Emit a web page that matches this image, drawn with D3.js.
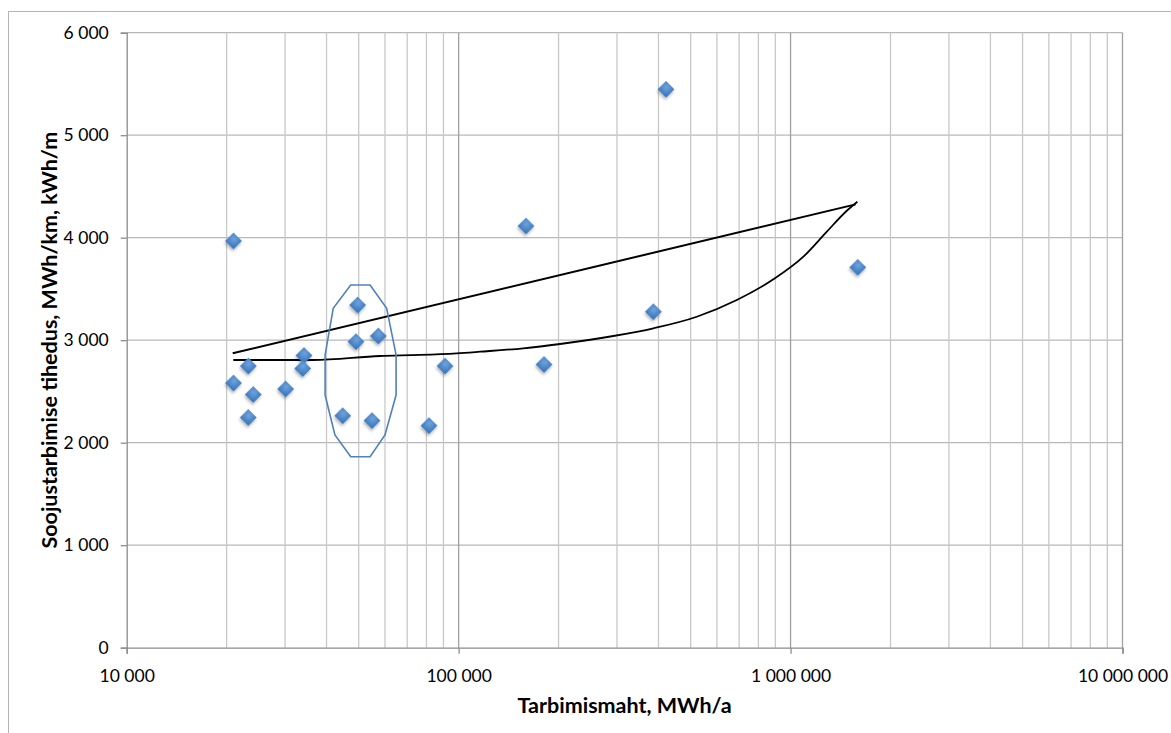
<!DOCTYPE html>
<html>
<head>
<meta charset="utf-8">
<script src="https://cdn.jsdelivr.net/npm/d3@7"></script>
<style>
	body { margin:0; background:#fff; }
	text { font-family: Lato, "Open Sans", sans-serif; fill:#000; }
</style>
</head>
<body>
<div id="idChart"></div>
<script>
// tick values
var aTickX = [10000, 100000, 1000000, 10000000];
var aTickY = [0, 1000, 2000, 3000, 4000, 5000, 6000];

// measured points: consumption (MWh/a) and density (kWh/m)
var aPointX = [20980, 20980, 23250, 23250, 24070, 30130, 34210, 33900, 44760, 49660,
	49080, 57280, 54840, 81440, 91000, 159600, 180900, 386100, 421600, 1594000];
var aPointY = [3968, 2582, 2748, 2246, 2470, 2524, 2851, 2724, 2263, 3343,
	2985, 3041, 2215, 2166, 2748, 4114, 2763, 3278, 5448, 3711];

// logarithmic trend (straight on log axis)
var aTrendLogX = [20860, 1570000];
var aTrendLogY = [2872, 4325];

// linear trend
var aTrendLinX = [20950, 36420, 57980, 76510, 98690, 116000, 156600, 202100, 292500,
	386100, 521900, 688700, 887800, 1093000, 1286000, 1477000, 1590000];
var aTrendLinY = [2807, 2807, 2846, 2856, 2872, 2888, 2921, 2963, 3041,
	3116, 3229, 3392, 3594, 3815, 4059, 4263, 4351];

// hand drawn ring round the middle group
var aRingX = [47300, 54100, 60700, 64800, 64800, 60000, 54100, 47300, 42400, 39600, 39600, 41900];
var aRingY = [3539, 3539, 3311, 2856, 2465, 2075, 1863, 1863, 2075, 2465, 2856, 3311];

var sTitleX = "Tarbimismaht, MWh/a";
var sTitleY = "Soojustarbimise tihedus, MWh/km, kWh/m";

function DrawDensityChart()
{
	var iWidth = 1171;
	var iHeight = 733;
	var oMargin = {left:126.7, top:32.7, right:1171-1122.5, bottom:733-647.7};
	var fmtNum = d3.formatLocale({decimal:",", thousands:" ", grouping:[3], currency:["",""]}).format(",d");

	var mySvg = d3.select("#idChart").append("svg")
		.attr("width", iWidth)
		.attr("height", iHeight);

	var myDefs = mySvg.append("defs");
	var myGrad = myDefs.append("radialGradient")
		.attr("id", "idMarkerFill")
		.attr("cx", "40%").attr("cy", "35%").attr("r", "70%");
	myGrad.append("stop").attr("offset", "0%").attr("stop-color", "#6fa3dc");
	myGrad.append("stop").attr("offset", "100%").attr("stop-color", "#3b78bd");
	var myShadow = myDefs.append("filter")
		.attr("id", "idShadow")
		.attr("x", "-50%").attr("y", "-50%").attr("width", "200%").attr("height", "200%");
	myShadow.append("feDropShadow")
		.attr("dx", 1).attr("dy", 2).attr("stdDeviation", 1.5)
		.attr("flood-color", "#000").attr("flood-opacity", 0.3);

	// outer frame
	mySvg.append("rect")
		.attr("x", 8.5).attr("y", 11.5)
		.attr("width", iWidth).attr("height", iHeight)
		.attr("fill", "none")
		.attr("stroke", "#b4b4b4");

	var myX = d3.scaleLog()
		.domain([aTickX[0], aTickX[aTickX.length-1]])
		.range([oMargin.left, iWidth-oMargin.right]);
	var myY = d3.scaleLinear()
		.domain([aTickY[0], aTickY[aTickY.length-1]])
		.range([iHeight-oMargin.bottom, oMargin.top]);

	var myGrid = mySvg.append("g");

	myGrid.selectAll(".GridY")
		.data(aTickY.slice(1))
		.enter().append("line")
			.attr("class", "GridY")
			.attr("x1", myX.range()[0]).attr("x2", myX.range()[1])
			.attr("y1", function(d) { return myY(d); })
			.attr("y2", function(d) { return myY(d); })
			.attr("stroke", "#b8b8b8")
			.attr("stroke-width", 1.3);

	myGrid.selectAll(".GridX")
		.data(myX.ticks().filter(function(d) { return d > aTickX[0]; }))
		.enter().append("line")
			.attr("class", "GridX")
			.attr("x1", function(d) { return myX(d); })
			.attr("x2", function(d) { return myX(d); })
			.attr("y1", myY.range()[0]).attr("y2", myY.range()[1])
			.attr("stroke", function(d) { return aTickX.indexOf(d) >= 0 ? "#a0a0a0" : "#c8c8c8"; })
			.attr("stroke-width", 1.3);

	var myAxisY = mySvg.append("g")
		.attr("transform", "translate(" + oMargin.left + ",0)")
		.call(d3.axisLeft(myY).tickValues(aTickY).tickSize(6).tickPadding(12).tickFormat(fmtNum));

	var myAxisX = mySvg.append("g")
		.attr("transform", "translate(0," + (iHeight-oMargin.bottom) + ")")
		.call(d3.axisBottom(myX).tickValues(aTickX).tickSize(6).tickPadding(16).tickFormat(fmtNum));

	[myAxisY, myAxisX].forEach(function(myAxis)
	{
		myAxis.select(".domain").attr("stroke", "#8c8c8c").attr("stroke-width", 1.3);
		myAxis.selectAll(".tick line").attr("stroke", "#8c8c8c").attr("stroke-width", 1.3);
		myAxis.selectAll(".tick text")
			.attr("font-size", 17.5)
			.attr("font-family", "Lato, sans-serif")
			.attr("fill", "#000");
	});

	mySvg.append("text")
		.attr("x", (myX.range()[0]+myX.range()[1])/2)
		.attr("y", 713)
		.attr("text-anchor", "middle")
		.attr("font-size", 21.5)
		.attr("font-weight", "bold")
		.text(sTitleX);

	mySvg.append("text")
		.attr("transform", "translate(57," + ((myY.range()[0]+myY.range()[1])/2) + ") rotate(-90)")
		.attr("text-anchor", "middle")
		.attr("font-size", 21.5)
		.attr("font-weight", "bold")
		.text(sTitleY);

	var fLine = d3.line()
		.x(function(d) { return myX(d[0]); })
		.y(function(d) { return myY(d[1]); });

	mySvg.append("path")
		.datum(d3.zip(aTrendLogX, aTrendLogY))
		.attr("d", fLine)
		.attr("fill", "none")
		.attr("stroke", "#000")
		.attr("stroke-width", 2);

	mySvg.append("path")
		.datum(d3.zip(aTrendLinX, aTrendLinY))
		.attr("d", fLine.curve(d3.curveMonotoneX))
		.attr("fill", "none")
		.attr("stroke", "#000")
		.attr("stroke-width", 1.8);

	mySvg.selectAll(".Points")
		.data(d3.zip(aPointX, aPointY))
		.enter().append("path")
			.attr("class", "Points")
			.attr("d", d3.symbol(d3.symbolSquare, 140))
			.attr("transform", function(d) { return "translate(" + myX(d[0]) + "," + myY(d[1]) + ") rotate(45)"; })
			.attr("fill", "url(#idMarkerFill)")
			.attr("filter", "url(#idShadow)");

	mySvg.append("path")
		.datum(d3.zip(aRingX, aRingY))
		.attr("d", d3.line()
			.x(function(d) { return myX(d[0]); })
			.y(function(d) { return myY(d[1]); })
			.curve(d3.curveLinearClosed))
		.attr("fill", "none")
		.attr("stroke", "#4f81bd")
		.attr("stroke-width", 1.6);
}

DrawDensityChart();
</script>
</body>
</html>
